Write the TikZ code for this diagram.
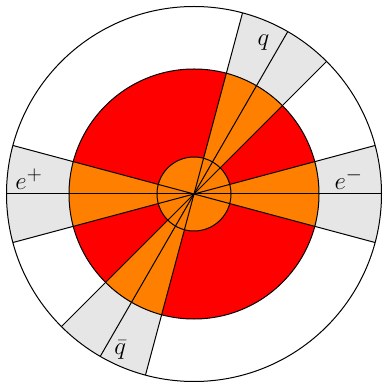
\documentclass[tikz,border=0pt]{standalone}
\definecolor{jetred}{HTML}{FF0000}
\definecolor{jetorange}{HTML}{FF8000}
\definecolor{jetgray}{HTML}{E6E6E6}
\begin{document}
\begin{tikzpicture}[line width=1pt,
  lab/.style={font=\fontsize{28}{32}\selectfont, inner sep=0pt, anchor=base west}]
\useasboundingbox (-194pt,-188pt) rectangle (188pt,194pt);
\coordinate (c) at (0pt,0pt);
% outer circle
\fill[white] (c) circle[radius=187.5pt];
% grey outer cones
\foreach \a in {-15,165,45,225}
  \fill[jetgray] (c) -- (\a:187.5pt) arc[start angle=\a, delta angle=30, radius=187.5pt] -- cycle;
\draw (c) circle[radius=187.5pt];
% red disk
\fill[jetred] (c) circle[radius=125pt];
\foreach \a in {-15,165,45,225}
  \fill[jetorange] (c) -- (\a:125pt) arc[start angle=\a, delta angle=30, radius=125pt] -- cycle;
\draw (c) circle[radius=125pt];
% inner disk
\draw[fill=jetorange] (c) circle[radius=37pt];
% radial lines
\foreach \a in {-15,0,15,45,60,75,165,180,195,225,240,255}
  \draw (c) -- (\a:187.5pt);
% labels
\node[lab] (ep) at (-179pt,4pt) {$e^+$};
\node[lab] (em) at (140pt,4pt) {$e^-$};
\node[lab] (q) at (63pt,148pt) {$q$};
\node[lab] (qb) at (-80pt,-160pt) {$\bar q$};
\end{tikzpicture}
\end{document}
